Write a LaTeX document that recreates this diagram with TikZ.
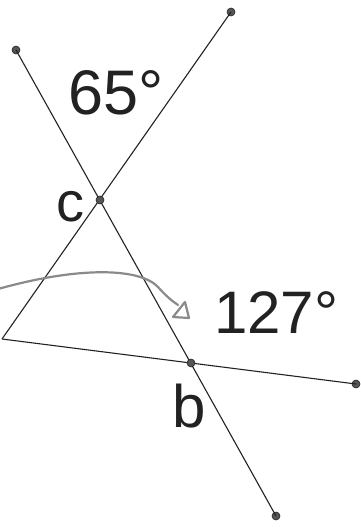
\documentclass[tikz,border=0pt]{standalone}
\usepackage{fontspec}
\setmainfont{Liberation Sans}
\definecolor{ink}{HTML}{222222}
\definecolor{dotfill}{HTML}{555555}
\definecolor{pen}{HTML}{8A8A8A}
\begin{document}
\begin{tikzpicture}[x=1pt,y=-1pt,
  seg/.style={draw=ink,line width=1.1pt},
  dot/.style={circle,fill=dotfill,draw=ink,line width=0.6pt,minimum size=8pt,inner sep=0pt},
  lbl/.style={inner sep=0pt,text=ink,anchor=base west},
  penline/.style={draw=pen,line width=2.2pt,line cap=round,line join=round}]
\useasboundingbox (0,0) rectangle (360,529);
% points
\coordinate (A) at (2,339);
\node[dot] (P1) at (231,12) {};
\node[dot] (P2) at (16,50) {};
\node[dot] (P3) at (276,516) {};
\node[dot] (P4) at (356,384) {};
% lines
\draw[seg] (P1.center) -- (A);
\draw[seg] (P2.center) -- (P3.center);
\draw[seg] (A) -- (P4.center);
\node[dot] (C) at (100,200) {};
\node[dot] (B) at (191,363) {};
% labels
\node[lbl,font=\fontsize{63}{63}\selectfont] (t65) at (68,115) {65°};
\node[lbl,font=\fontsize{60}{60}\selectfont] (t127) at (214,333) {127°};
\node[lbl,font=\fontsize{56}{56}\selectfont] (tc) at (56,222) {c};
\node[lbl,font=\fontsize{60}{60}\selectfont] (tb) at (172,427) {b};
% hand-drawn arrow
\coordinate (s) at (-2,289);
\coordinate (e) at (178,305);
\draw[penline] (s) .. controls (80,266) and (140,268) .. (158,287) .. controls (166,296) and (172,301) .. (e);
\draw[penline] (185,302) -- (173,317) -- (189,318) -- cycle;
\end{tikzpicture}
\end{document}
